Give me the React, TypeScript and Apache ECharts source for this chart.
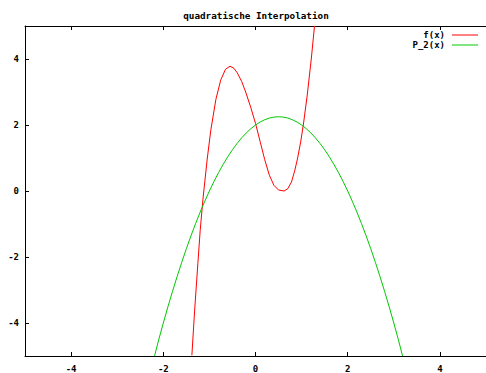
import React, { useEffect, useRef } from "react";
import * as echarts from "echarts";

const titleText = "quadratische Interpolation";
const seriesNames = ["f(x)", "P_2(x)"];
const tickValues = [-4, -2, 0, 2, 4];

// f(x)
const fX = [-1.38, -1.32, -1.25, -1.2, -1.14, -1.05, -0.97, -0.86, -0.755, -0.65, -0.553, -0.47, -0.395, -0.3, -0.213, -0.1, 0, 0.1, 0.2, 0.3, 0.4, 0.5, 0.62, 0.7, 0.78, 0.85, 0.91, 0.98, 1.04, 1.12, 1.21, 1.28];
const fY = [-4.98, -3.61, -2.19, -1.2, -0.25, 0.94, 1.84, 2.77, 3.36, 3.69, 3.78, 3.72, 3.58, 3.32, 3.0, 2.52, 2.05, 1.5, 0.95, 0.48, 0.17, 0.03, 0, 0.07, 0.27, 0.61, 0.97, 1.49, 2.03, 2.88, 4.0, 5.0];

// P_2(x)
const pX = [-2.19, -2.1, -2.0, -1.9, -1.8, -1.7, -1.6, -1.5, -1.4, -1.3, -1.2, -1.1, -1.0, -0.9, -0.8, -0.7, -0.6, -0.5, -0.4, -0.3, -0.2, -0.1, 0, 0.1, 0.2, 0.3, 0.4, 0.5, 0.6, 0.7, 0.8, 0.9, 1.0, 1.1, 1.2, 1.3, 1.4, 1.5, 1.6, 1.7, 1.8, 1.9, 2.0, 2.1, 2.2, 2.3, 2.4, 2.5, 2.6, 2.7, 2.8, 2.9, 3.0, 3.1, 3.19];
const pY = [-5.0, -4.51, -4.0, -3.51, -3.04, -2.59, -2.16, -1.75, -1.36, -0.99, -0.64, -0.31, 0, 0.29, 0.56, 0.81, 1.04, 1.25, 1.44, 1.61, 1.76, 1.89, 2.0, 2.09, 2.16, 2.21, 2.24, 2.25, 2.24, 2.21, 2.16, 2.09, 2.0, 1.89, 1.76, 1.61, 1.44, 1.25, 1.04, 0.81, 0.56, 0.29, 0, -0.31, -0.64, -0.99, -1.36, -1.75, -2.16, -2.59, -3.04, -3.51, -4.0, -4.51, -5.0];

const FONT = "'DejaVu Sans Mono', monospace";

export default function App() {
  const ref = useRef<HTMLDivElement>(null);
  useEffect(() => {
    if (!ref.current) return;
    const chart = echarts.init(ref.current, null, { renderer: "svg" });
    const fData = fX.map((x, i) => [x, fY[i]]);
    const pData = pX.map((x, i) => [x, pY[i]]);
    const axisCommon = {
      type: "value",
      min: -5,
      max: 5,
      axisLine: { show: true, onZero: false, lineStyle: { color: "#000", width: 1 } },
      splitLine: { show: false },
      axisTick: { show: true, inside: true, length: 4, customValues: tickValues, lineStyle: { color: "#000" } },
    };
    chart.setOption({
      animation: false,
      backgroundColor: "#fff",
      title: {
        text: titleText,
        left: 251,
        top: 6,
        textAlign: "center",
        textStyle: { fontFamily: FONT, fontSize: 9.3, fontWeight: "bold", color: "#000" },
      },
      legend: {
        data: seriesNames,
        orient: "vertical",
        right: 3,
        top: 25,
        align: "right",
        icon: "rect",
        itemWidth: 26,
        itemHeight: 1,
        itemGap: 0,
        selectedMode: false,
        textStyle: { fontFamily: FONT, fontSize: 9, fontWeight: "bold", color: "#000", lineHeight: 10, padding: [0, 2, 0, 0] },
      },
      grid: { left: 25, top: 26, width: 463, height: 333.5, containLabel: false },
      xAxis: [
        {
          ...axisCommon,
          position: "bottom",
          axisLabel: { show: true, customValues: tickValues, margin: 8, fontFamily: FONT, fontSize: 9, fontWeight: "bold", color: "#000" },
        },
        {
          ...axisCommon,
          position: "top",
          axisLabel: { show: false },
        },
      ],
      yAxis: {
        ...axisCommon,
        position: "left",
        axisLabel: { show: true, customValues: tickValues, margin: 6, fontFamily: FONT, fontSize: 9, fontWeight: "bold", color: "#000" },
      },
      series: [
        {
          name: seriesNames[0],
          type: "line",
          xAxisIndex: 0,
          data: fData,
          showSymbol: false,
          symbol: "none",
          smooth: false,
          clip: true,
          color: "#ff0000",
          lineStyle: { color: "#ff0000", width: 1 },
        },
        {
          name: seriesNames[1],
          type: "line",
          xAxisIndex: 0,
          data: pData,
          showSymbol: false,
          symbol: "none",
          smooth: false,
          clip: true,
          color: "#00c800",
          lineStyle: { color: "#00c800", width: 1 },
        },
      ],
    });
    return () => chart.dispose();
  }, []);
  return <div ref={ref} style={{ width: 486, height: 373, position: "absolute", left: 0, top: 0 }} />;
}
